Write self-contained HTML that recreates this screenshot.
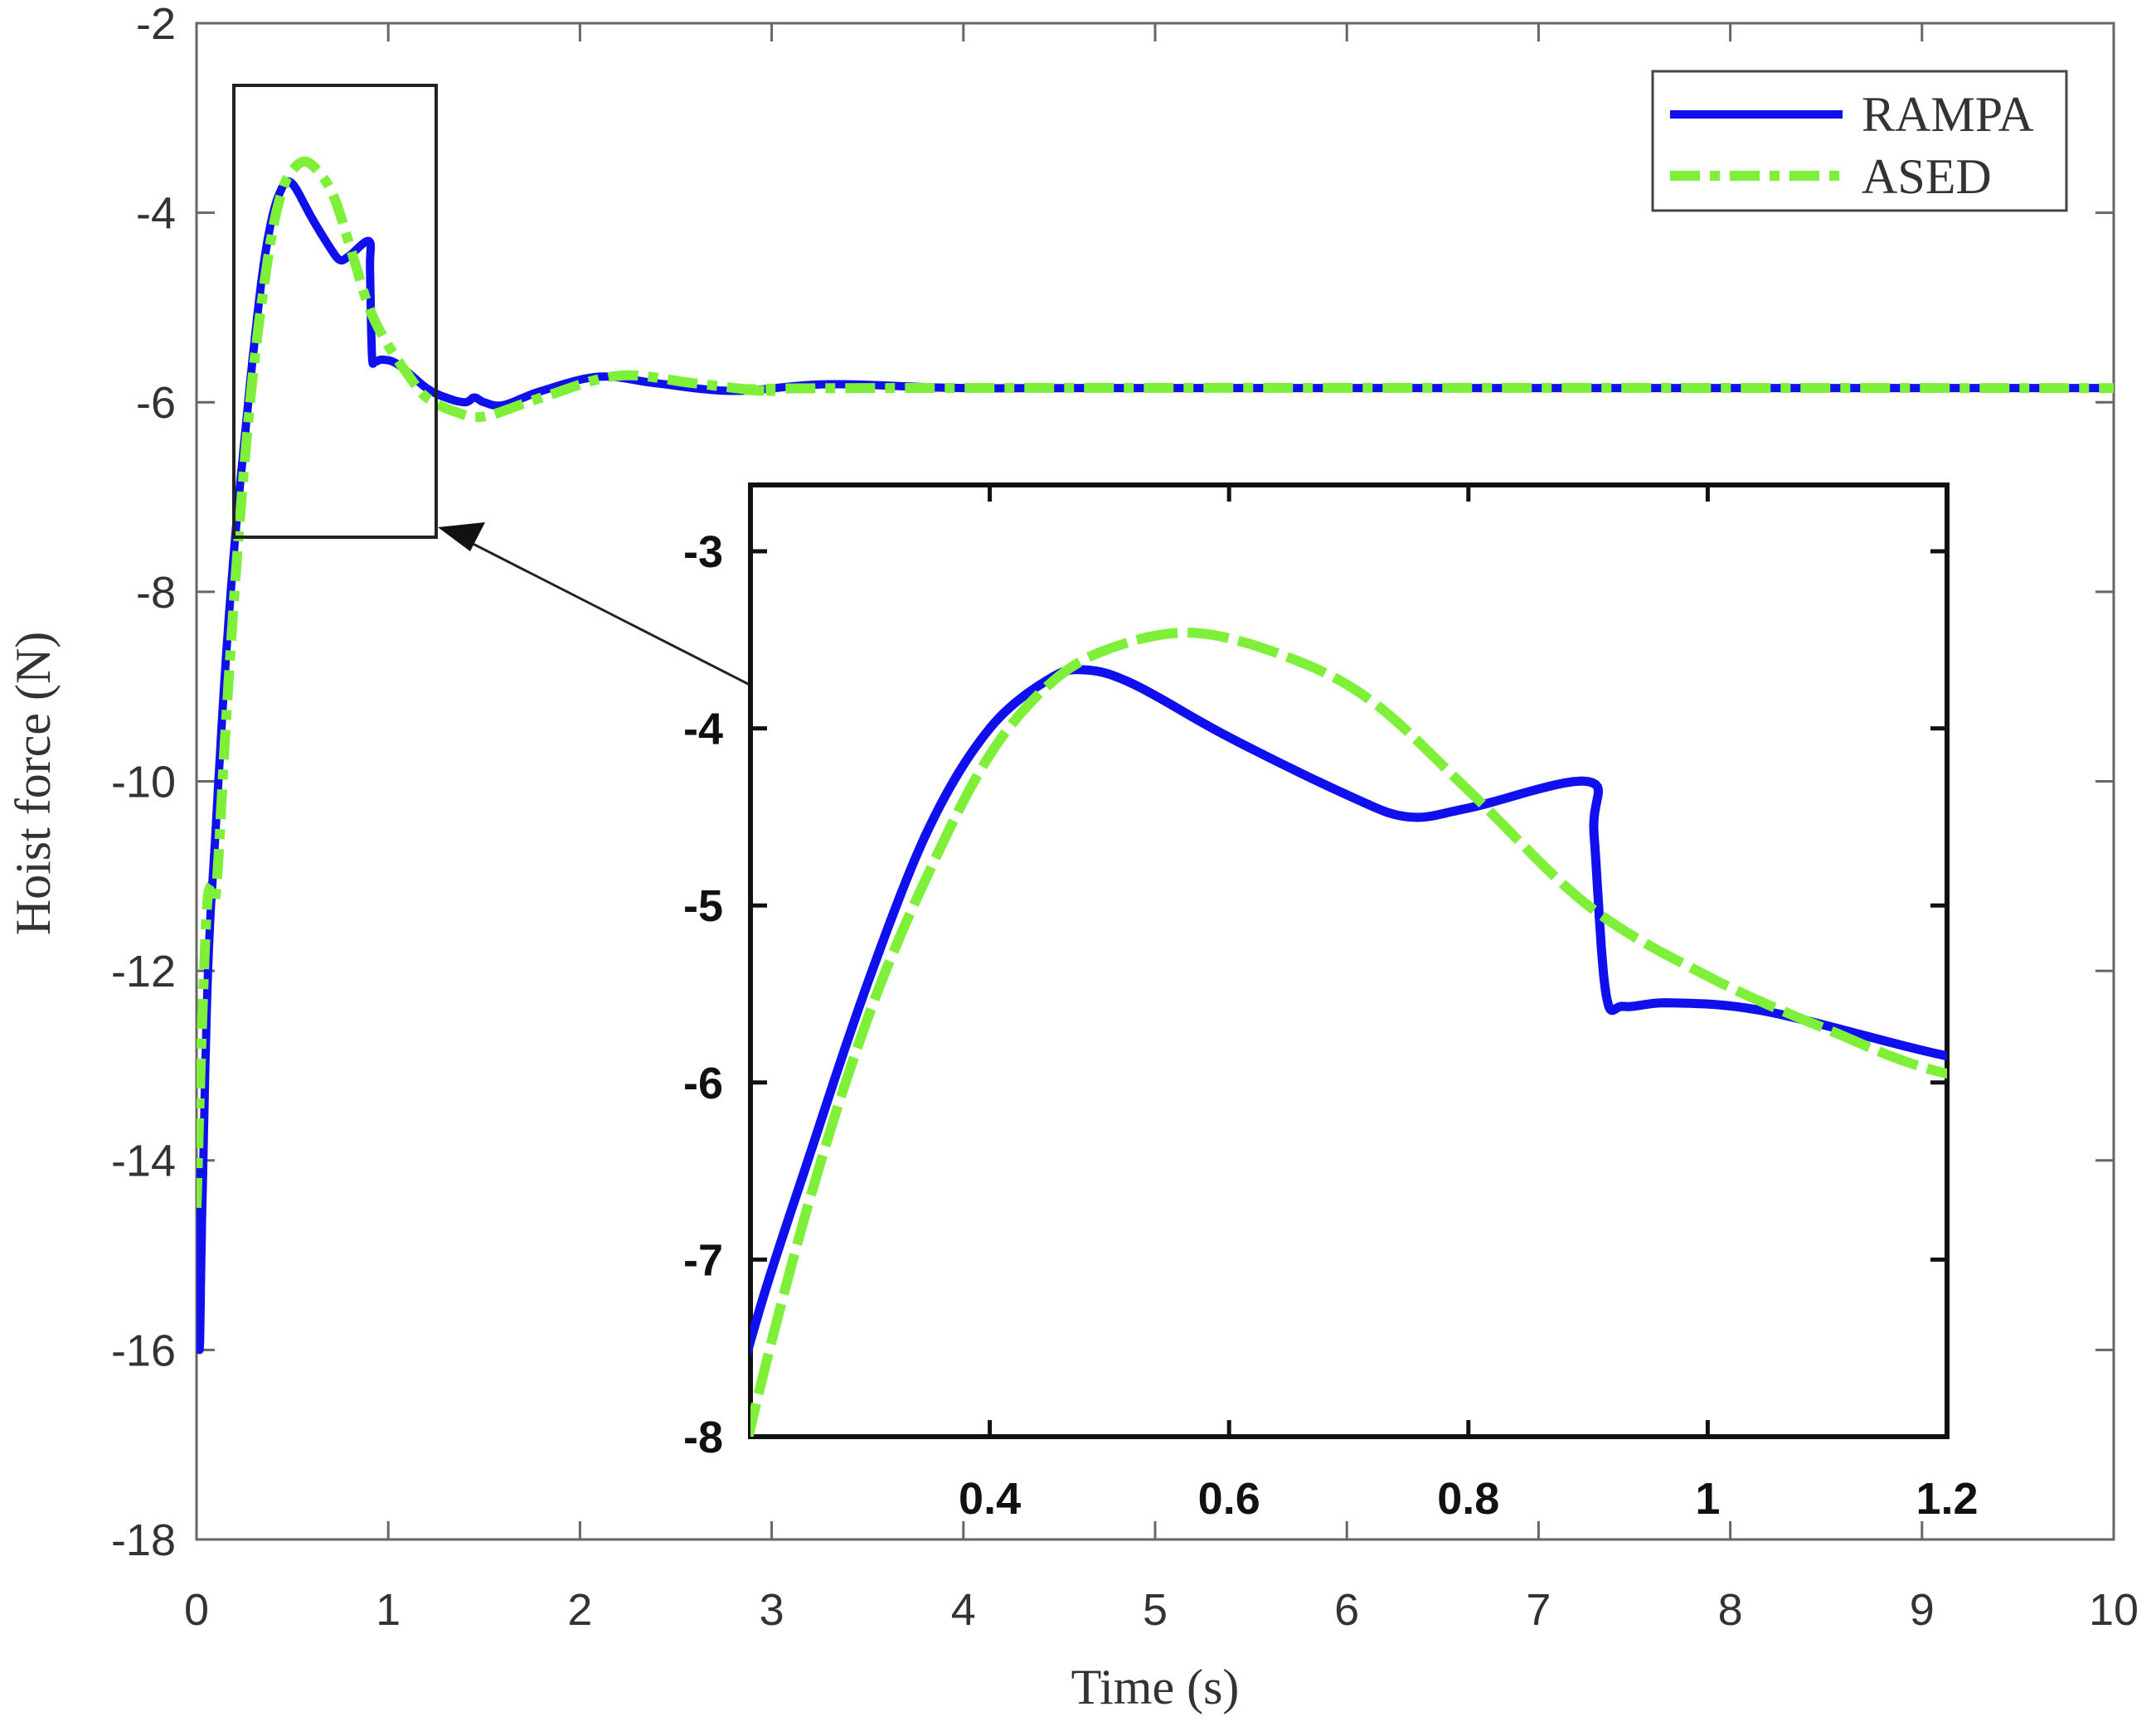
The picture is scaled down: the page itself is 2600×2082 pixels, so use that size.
<!DOCTYPE html>
<html><head><meta charset="utf-8"><style>
html,body{margin:0;padding:0;background:#fff;overflow:hidden;width:2600px;height:2082px}
svg{display:block}
.t{font-family:"Liberation Sans",Arial,sans-serif;font-size:54px;fill:#333}
.b{font-family:"Liberation Sans",Arial,sans-serif;font-size:54px;font-weight:bold;fill:#111}
.s{font-family:"Liberation Serif","Times New Roman",serif;font-size:60px;fill:#333}
</style></head><body>
<svg id="svg" width="2600" height="2082" viewBox="0 0 2600 2082" xmlns="http://www.w3.org/2000/svg">
<defs>
<clipPath id="cm"><rect x="237" y="28" width="2312" height="1829"/></clipPath>
<clipPath id="ci"><rect x="905" y="585" width="1443" height="1148"/></clipPath>
</defs>
<rect x="237" y="28" width="2312" height="1829" fill="#fff" stroke="#666" stroke-width="3"/>
<g id="mticks" stroke="#666" stroke-width="3"></g>
<g id="mlabels"></g>
<text class="s" x="1393" y="2055" text-anchor="middle">Time (s)</text>
<text class="s" x="0" y="0" text-anchor="middle" transform="translate(60,945) rotate(-90)">Hoist force (N)</text>
<g clip-path="url(#cm)">
<path id="mb" fill="none" stroke="#1010ee" stroke-width="10" stroke-linejoin="round"/>
<path id="mg" fill="none" stroke="#7ef03a" stroke-width="12" stroke-dasharray="36,12,12,12"/>
</g>
<rect x="282" y="103" width="244" height="545" fill="none" stroke="#222" stroke-width="4"/>
<line x1="904" y1="826" x2="545" y2="643" stroke="#222" stroke-width="3"/>
<polygon points="528,636 585,630 567,665" fill="#111"/>
<rect x="905" y="585" width="1443" height="1148" fill="#fff" stroke="#111" stroke-width="6"/>
<g id="iticks" stroke="#111" stroke-width="5"></g>
<g id="ilabels"></g>
<g clip-path="url(#ci)">
<path id="ib" fill="none" stroke="#1010ee" stroke-width="11" stroke-linejoin="round"/>
<path id="ig" fill="none" stroke="#7ef03a" stroke-width="12" stroke-dasharray="50,12"/>
</g>
<rect x="1993" y="86" width="499" height="168" fill="#fff" stroke="#444" stroke-width="3"/>
<line x1="2014" y1="138" x2="2222" y2="138" stroke="#1010ee" stroke-width="10"/>
<line x1="2014" y1="212" x2="2222" y2="212" stroke="#7ef03a" stroke-width="12" stroke-dasharray="36,12,12,12"/>
<text class="s" x="2245" y="158">RAMPA</text>
<text class="s" x="2245" y="233">ASED</text>
</svg>
<script>
var NS="http://www.w3.org/2000/svg";
function el(p,tag,a,txt){var e=document.createElementNS(NS,tag);for(var k in a)e.setAttribute(k,a[k]);if(txt!=null)e.textContent=txt;document.getElementById(p).appendChild(e);}
function mx(t){return 237+t*231.2;}
function my(v){return 28+(-2-v)*114.31;}
for(var i=0;i<=10;i++){var x=mx(i);el("mticks","line",{x1:x,y1:1857,x2:x,y2:1835});el("mticks","line",{x1:x,y1:28,x2:x,y2:50});
el("mlabels","text",{"class":"t",x:x,y:1960,"text-anchor":"middle"},i);}
for(var v=-2;v>=-18;v-=2){var y=my(v);el("mticks","line",{x1:237,y1:y,x2:259,y2:y});el("mticks","line",{x1:2549,y1:y,x2:2527,y2:y});
el("mlabels","text",{"class":"t",x:212,y:y+19,"text-anchor":"end"},v);}
function ix(t){return 905+(t-0.2)*1443;}
function iy(v){return 665+(-3-v)*213.6;}
[0.4,0.6,0.8,1,1.2].forEach(function(t){var x=ix(t);el("iticks","line",{x1:x,y1:1733,x2:x,y2:1713});el("iticks","line",{x1:x,y1:585,x2:x,y2:605});
el("ilabels","text",{"class":"b",x:x,y:1826,"text-anchor":"middle"},t);});
[-3,-4,-5,-6,-7,-8].forEach(function(v){var y=iy(v);el("iticks","line",{x1:905,y1:y,x2:925,y2:y});el("iticks","line",{x1:2348,y1:y,x2:2328,y2:y});
el("ilabels","text",{"class":"b",x:872,y:y+19,"text-anchor":"end"},v);});
var B=[[0,-14],[0.015,-16],[0.03,-14.5],[0.06,-12],[0.1,-10.5],[0.15,-8.8],[0.2,-7.46],[0.25,-6.4],[0.3,-5.4],[0.35,-4.55],[0.4,-4.0],[0.45,-3.72],[0.48,-3.67],[0.52,-3.75],[0.6,-4.05],[0.7,-4.38],[0.75,-4.5],[0.8,-4.45],[0.9,-4.3],[0.905,-4.6],[0.915,-5.5],[0.93,-5.57],[0.97,-5.55],[1.05,-5.6],[1.2,-5.85],[1.3,-5.95],[1.4,-6.0],[1.45,-5.95],[1.5,-6.0],[1.6,-6.03],[1.8,-5.88],[2.1,-5.73],[2.4,-5.8],[2.8,-5.88],[3.3,-5.81],[4,-5.85],[5,-5.85],[10,-5.85]];
var G=[[0,-14.5],[0.03,-12.5],[0.06,-11.2],[0.1,-11.2],[0.15,-9.5],[0.2,-7.95],[0.25,-6.65],[0.3,-5.6],[0.35,-4.8],[0.4,-4.15],[0.45,-3.75],[0.5,-3.55],[0.57,-3.46],[0.65,-3.6],[0.72,-3.85],[0.8,-4.35],[0.9,-5.0],[1.0,-5.4],[1.1,-5.7],[1.2,-5.95],[1.35,-6.1],[1.5,-6.15],[1.8,-5.95],[2.2,-5.72],[2.6,-5.8],[3.0,-5.88],[3.5,-5.85],[10,-5.85]];
function path(P,fx,fy){var d="M"+fx(P[0][0]).toFixed(1)+","+fy(P[0][1]).toFixed(1);
for(var i=0;i<P.length-1;i++){var p0=P[Math.max(i-1,0)],p1=P[i],p2=P[i+1],p3=P[Math.min(i+2,P.length-1)];
for(var s=1;s<=12;s++){var u=s/12,u2=u*u,u3=u2*u;
var t=0.5*((2*p1[0])+(-p0[0]+p2[0])*u+(2*p0[0]-5*p1[0]+4*p2[0]-p3[0])*u2+(-p0[0]+3*p1[0]-3*p2[0]+p3[0])*u3);
var v=0.5*((2*p1[1])+(-p0[1]+p2[1])*u+(2*p0[1]-5*p1[1]+4*p2[1]-p3[1])*u2+(-p0[1]+3*p1[1]-3*p2[1]+p3[1])*u3);
d+=" L"+fx(t).toFixed(1)+","+fy(v).toFixed(1);}}return d;}
document.getElementById("mb").setAttribute("d",path(B,mx,my));
document.getElementById("mg").setAttribute("d",path(G,mx,my));
document.getElementById("ib").setAttribute("d",path(B,ix,iy));
document.getElementById("ig").setAttribute("d",path(G,ix,iy));
</script>
</body></html>
